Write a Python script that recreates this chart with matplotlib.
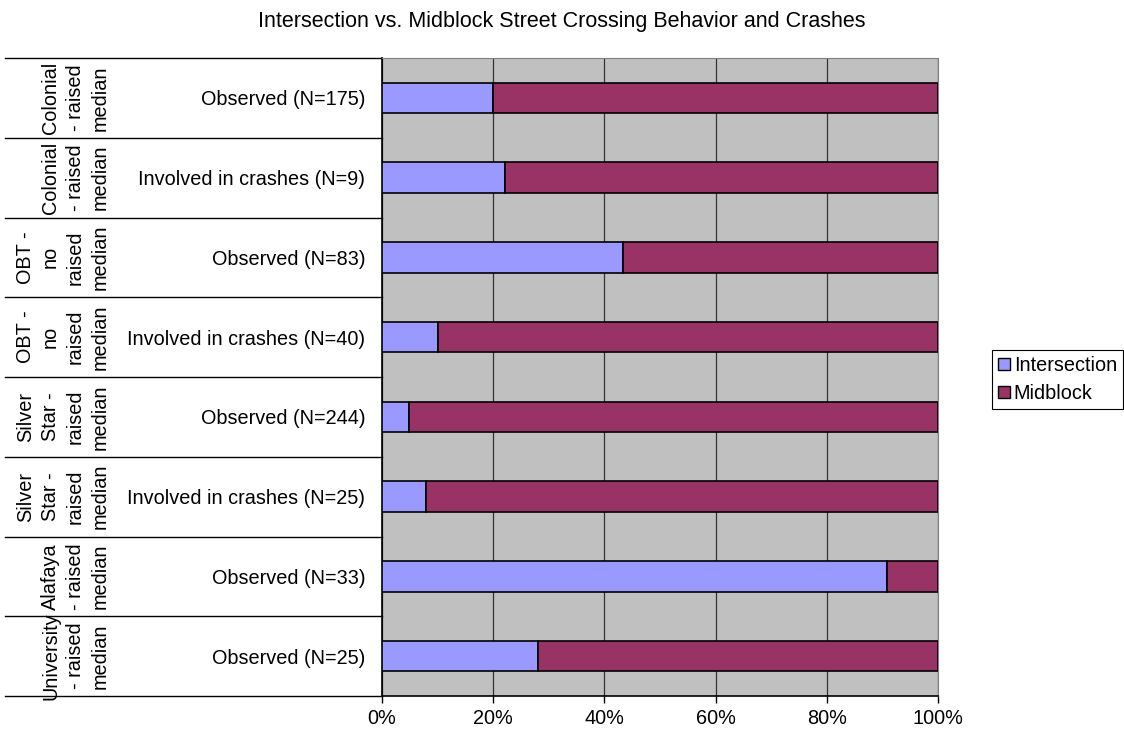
import matplotlib
matplotlib.use('Agg')
import matplotlib.pyplot as plt
from matplotlib.patches import Patch
from matplotlib.transforms import blended_transform_factory

plt.rcParams['font.family'] = ['Liberation Sans', 'DejaVu Sans']

# data (percent)
sites = ['Colonial\n- raised\nmedian', 'Colonial\n- raised\nmedian',
         'OBT -\nno\nraised\nmedian', 'OBT -\nno\nraised\nmedian',
         'Silver\nStar -\nraised\nmedian', 'Silver\nStar -\nraised\nmedian',
         'Alafaya\n- raised\nmedian', 'University\n- raised\nmedian']
groups = ['Observed (N=175)', 'Involved in crashes (N=9)',
          'Observed (N=83)', 'Involved in crashes (N=40)',
          'Observed (N=244)', 'Involved in crashes (N=25)',
          'Observed (N=33)', 'Observed (N=25)']
intersection = [20.0, 22.2, 43.4, 10.0, 4.9, 8.0, 90.9, 28.0]
midblock = [80.0, 77.8, 56.6, 90.0, 95.1, 92.0, 9.1, 72.0]

FS = 14.3
W, H = 1124, 736
fig = plt.figure(figsize=(W / 100, H / 100), dpi=100)
ax = fig.add_axes([382 / W, 1 - 696 / H, (938 - 382) / W, (696 - 58) / H])
ax.set_facecolor('#C0C0C0')

y = list(range(len(groups)))
ax.barh(y, intersection, height=0.38, color='#9999FF', edgecolor='black', lw=1.2,
        label='Intersection', zorder=3)
ax.barh(y, midblock, left=intersection, height=0.38, color='#993366',
        edgecolor='black', lw=1.2, label='Midblock', zorder=3)

ax.set_xlim(0, 100)
ax.set_ylim(len(groups) - 0.5, -0.5)
ax.set_xticks([0, 20, 40, 60, 80, 100])
ax.set_xticklabels(['0%', '20%', '40%', '60%', '80%', '100%'], fontsize=FS)
ax.xaxis.grid(True, color='#333333', lw=0.9, zorder=1)
ax.tick_params(axis='x', length=5, width=1, direction='out', pad=4)

ax.set_yticks(y)
ax.set_yticklabels(groups, fontsize=FS)
ax.tick_params(axis='y', length=0, pad=12)

for s in ['top', 'right']:
    ax.spines[s].set_color('#808080')
for s in ['left', 'bottom']:
    ax.spines[s].set_color('black')
    ax.spines[s].set_linewidth(1.2)

# outer category labels and separators
tr = blended_transform_factory(fig.transFigure, ax.transData)
for i in range(len(groups) + 1):
    ax.plot([5 / W, 382 / W], [i - 0.5, i - 0.5], color='black', lw=1,
            transform=tr, clip_on=False)
for i, s in enumerate(sites):
    ax.text(110 / W, i, s, rotation=90, ha='right', va='center',
            multialignment='center', fontsize=FS, linespacing=1.4, transform=tr)

fig.text(0.5, 1 - 22 / H, 'Intersection vs. Midblock Street Crossing Behavior and Crashes',
         ha='center', va='center', fontsize=15.5)

handles = [Patch(facecolor='#9999FF', edgecolor='black', label='Intersection'),
           Patch(facecolor='#993366', edgecolor='black', label='Midblock')]
leg = fig.legend(handles=handles, loc='upper left',
                 bbox_to_anchor=(992 / W, 1 - 350 / H), fontsize=FS,
                 fancybox=False, framealpha=1, borderaxespad=0,
                 handlelength=0.6, handleheight=0.6, handletextpad=0.2,
                 borderpad=0.3, labelspacing=0.45)
leg.get_frame().set_edgecolor('black')
leg.get_frame().set_linewidth(0.8)

fig.savefig('out.png', dpi=100)
